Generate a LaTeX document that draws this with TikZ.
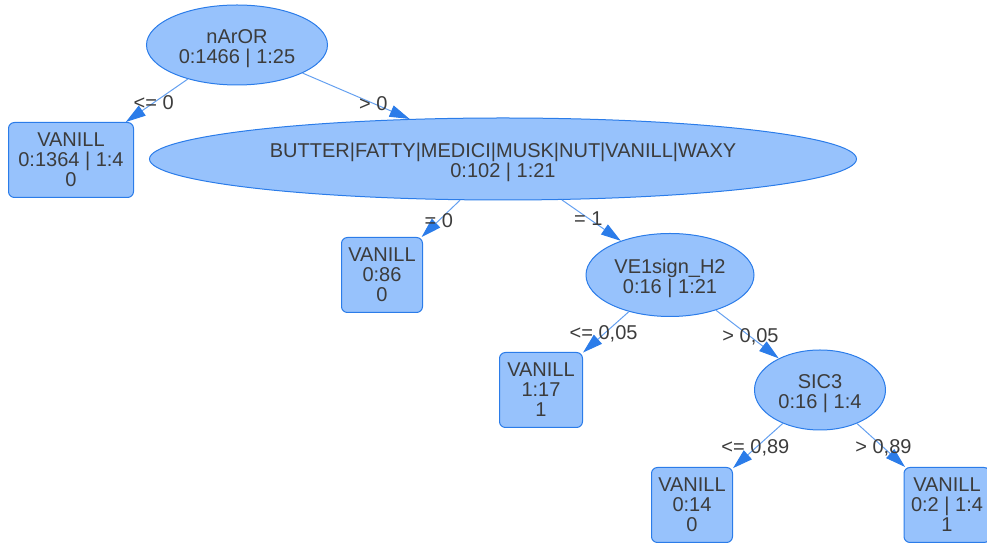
\documentclass[tikz,border=0pt]{standalone}
\usepackage{fontspec}
\setmainfont{Liberation Sans}
\usetikzlibrary{shapes.geometric, arrows.meta}
\definecolor{nodefill}{RGB}{151, 194, 252}
\definecolor{nodeborder}{RGB}{43, 124, 233}
\definecolor{linkblue}{RGB}{100, 160, 240}
\definecolor{textgray}{RGB}{60, 60, 60}
\tikzset{
  splitnode/.style={ellipse, draw=nodeborder, fill=nodefill, line width=0.5pt,
    inner sep=0pt, align=center, text=textgray, text height=21pt,
    text depth=2pt, font=\fontsize{10}{10}\selectfont},
  leafnode/.style={rectangle, rounded corners=3pt, draw=nodeborder,
    fill=nodefill, line width=0.5pt, inner sep=0pt, minimum height=37.5pt,
    align=center, text=textgray, font=\fontsize{10}{10}\selectfont},
  branch/.style={draw=linkblue, line width=0.5pt,
    -{Triangle[length=10pt,width=6pt,color=nodeborder]}},
  cond/.style={pos=0.55, inner sep=0pt, text=textgray,
    font=\fontsize{10}{10}\selectfont}
}
\begin{document}
\begin{tikzpicture}[x=0.5pt, y=-0.5pt]
\useasboundingbox (0,0) rectangle (987,544);

\node (root)   [splitnode, minimum width=90.5pt, minimum height=40pt]  at (237,45)  {nArOR\\0:1466 | 1:25};
\node (leafA)  [leafnode, minimum width=62.5pt]                        at (71,160)  {VANILL\\0:1364 | 1:4\\0};
\node (butter) [splitnode, minimum width=353.5pt, minimum height=41pt] at (503,159) {BUTTER|FATTY|MEDICI|MUSK|NUT|VANILL|WAXY\\0:102 | 1:21};
\node (leafB)  [leafnode, minimum width=40.5pt]                        at (382,275) {VANILL\\0:86\\0};
\node (vesign) [splitnode, minimum width=84pt, minimum height=41.5pt]  at (670,275) {VE1sign\_H2\\0:16 | 1:21};
\node (leafC)  [leafnode, minimum width=41.5pt]                        at (541,390) {VANILL\\1:17\\1};
\node (sic)    [splitnode, minimum width=65.5pt, minimum height=40pt]  at (820,390) {SIC3\\0:16 | 1:4};
\node (leafD)  [leafnode, minimum width=40.5pt]                        at (692,505) {VANILL\\0:14\\0};
\node (leafE)  [leafnode, minimum width=43pt]                          at (947,505) {VANILL\\0:2 | 1:4\\1};

\draw[branch] (root)   -- node[cond, pos=0.66]{> 0}  (butter);
\draw[branch] (root)   -- node[cond]{<= 0}           (leafA);
\draw[branch] (butter) -- node[cond]{= 0}            (leafB);
\draw[branch] (butter) -- node[cond, pos=0.45]{= 1}  (vesign);
\draw[branch] (vesign) -- node[cond]{<= 0,05}        (leafC);
\draw[branch] (vesign) -- node[cond]{> 0,05}         (sic);
\draw[branch] (sic)    -- node[cond]{<= 0,89}        (leafD);
\draw[branch] (sic)    -- node[cond]{> 0,89}         (leafE);
\end{tikzpicture}
\end{document}
